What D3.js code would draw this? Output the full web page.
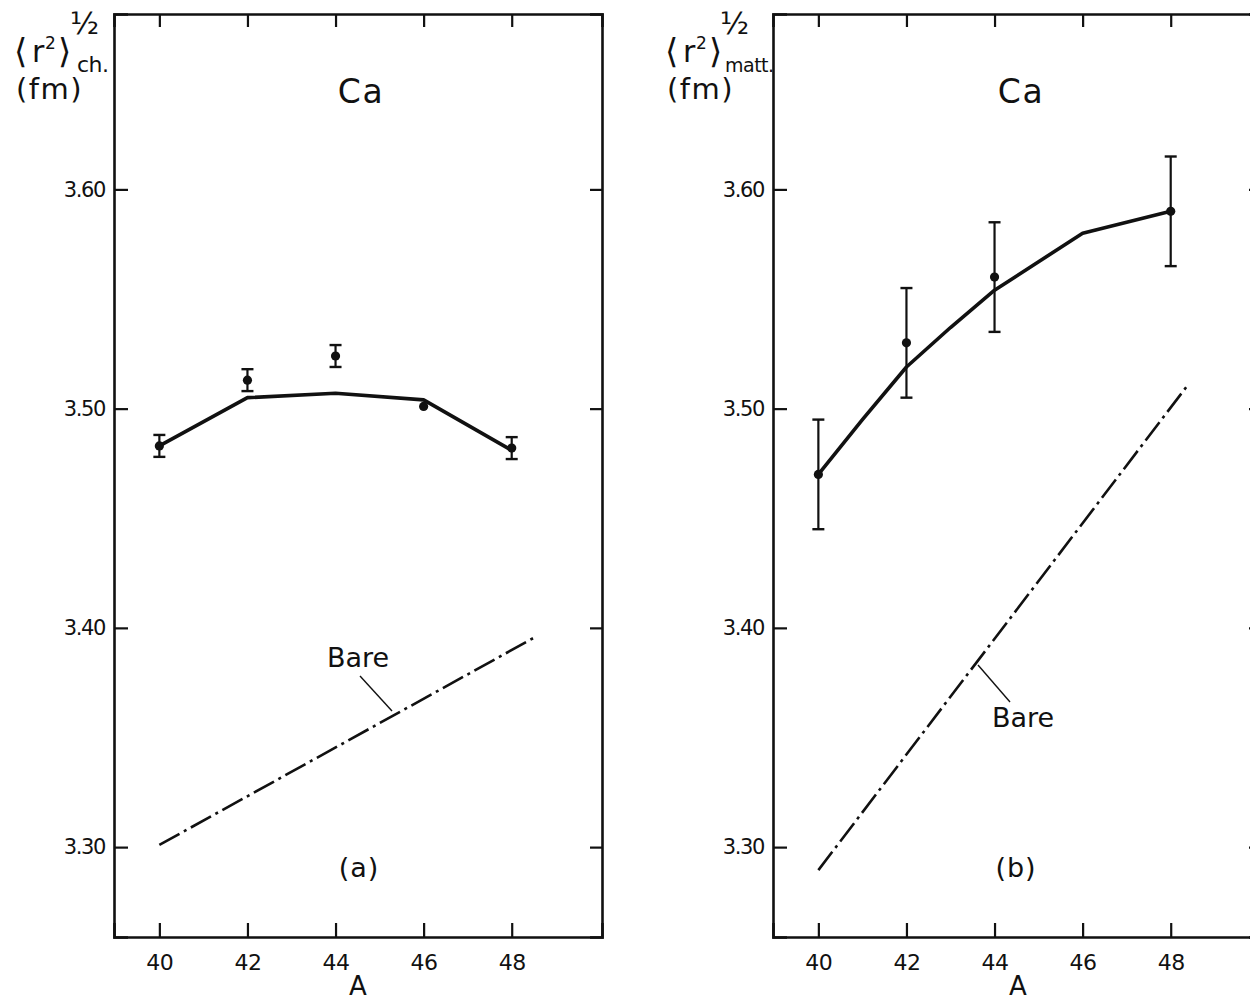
<!DOCTYPE html>
<html>
<head>
<meta charset="utf-8">
<script src="https://cdn.jsdelivr.net/npm/d3@7"></script>
<style>
  html, body { margin: 0; padding: 0; background: #fff; }
  svg text { font-family: "DejaVu Sans", sans-serif; fill: #111; }
</style>
</head>
<body>
<svg id="chart" width="1250" height="1003"></svg>
<script>
// Mass numbers of the calcium isotopes
const massNumbers = [40, 42, 44, 46, 48];
const yTicks = [3.30, 3.40, 3.50, 3.60];

// (a) charge radius: calculated curve, experiment with errors, bare result
const chCalcA = [40, 42, 44, 46, 48];
const chCalc = [3.483, 3.505, 3.507, 3.504, 3.481];
const chExpA = [40, 42, 44, 46, 48];
const chExp = [3.483, 3.513, 3.524, 3.501, 3.482];
const chErr = [0.005, 0.005, 0.005, 0.0, 0.005];
const chBareA = [40, 48.55];
const chBare = [3.301, 3.396];

// (b) matter radius
const mattCalcA = [40, 41, 42, 43, 44, 45, 46, 47, 48];
const mattCalc = [3.470, 3.495, 3.519, 3.537, 3.554, 3.567, 3.580, 3.585, 3.590];
const mattExpA = [40, 42, 44, 48];
const mattExp = [3.470, 3.530, 3.560, 3.590];
const mattErr = [0.025, 0.025, 0.025, 0.025];
const mattBareA = [40, 48.36];
const mattBare = [3.2895, 3.510];

const svg = d3.select("#chart");
const frameTop = 14, frameBottom = 937, panelW = 488;

const y = d3.scaleLinear().domain([3.259, 3.680]).range([frameBottom, frameTop]);

function panel(opts) {
  const x = d3.scaleLinear().domain([38.97, 50.05]).range([opts.left, opts.left + panelW]);
  const g = svg.append("g");
  const right = opts.left + panelW;

  // frame with inward ticks
  const axB = g.append("g").attr("transform", `translate(0,${frameBottom})`)
    .call(d3.axisBottom(x).tickValues(massNumbers).tickSize(-14).tickPadding(17).tickFormat(d3.format("d")));
  const axT = g.append("g").attr("transform", `translate(0,${frameTop})`)
    .call(d3.axisTop(x).tickValues(massNumbers).tickSize(-13).tickFormat(""));
  const axL = g.append("g").attr("transform", `translate(${opts.left},0)`)
    .call(d3.axisLeft(y).tickValues(yTicks).tickSize(-14).tickPadding(9).tickFormat(d3.format(".2f")));
  const axR = g.append("g").attr("transform", `translate(${right},0)`)
    .call(d3.axisRight(y).tickValues(yTicks).tickSize(-12).tickFormat(""));
  [axB, axT, axL, axR].forEach(a => {
    a.select(".domain").attr("stroke", "#111").attr("stroke-width", 2.6);
    a.selectAll(".tick line").attr("stroke", "#111").attr("stroke-width", 2.2);
    a.selectAll("text").attr("fill", "#111").style("font-family", '"DejaVu Sans", sans-serif');
  });
  axB.selectAll("text").attr("font-size", 22).attr("letter-spacing", -0.5);
  axL.selectAll("text").attr("font-size", 21).attr("letter-spacing", -1.4);

  // calculated curve
  g.append("path")
    .datum(opts.calcA.map((a, i) => [a, opts.calc[i]]))
    .attr("fill", "none").attr("stroke", "#111").attr("stroke-width", 3.6)
    .attr("stroke-linejoin", "round")
    .attr("d", d3.line().x(d => x(d[0])).y(d => y(d[1])));

  // bare (dash-dot) line
  g.append("path")
    .datum(opts.bareA.map((a, i) => [a, opts.bare[i]]))
    .attr("fill", "none").attr("stroke", "#111").attr("stroke-width", 2.6)
    .attr("stroke-dasharray", "23,5,3,5")
    .attr("d", d3.line().x(d => x(d[0])).y(d => y(d[1])));

  // experimental points with error bars
  const pts = opts.expA.map((a, i) => ({ a, v: opts.exp[i], e: opts.err[i] }));
  const eg = g.append("g").selectAll("g").data(pts).join("g");
  eg.filter(d => d.e > 0).append("line")
    .attr("x1", d => x(d.a)).attr("x2", d => x(d.a))
    .attr("y1", d => y(d.v - d.e)).attr("y2", d => y(d.v + d.e))
    .attr("stroke", "#111").attr("stroke-width", 2.2);
  ["-", "+"].forEach(s => {
    eg.filter(d => d.e > 0).append("line")
      .attr("x1", d => x(d.a) - 6).attr("x2", d => x(d.a) + 6)
      .attr("y1", d => y(s === "-" ? d.v - d.e : d.v + d.e))
      .attr("y2", d => y(s === "-" ? d.v - d.e : d.v + d.e))
      .attr("stroke", "#111").attr("stroke-width", 2.4);
  });
  eg.append("circle").attr("cx", d => x(d.a)).attr("cy", d => y(d.v)).attr("r", 4.6).attr("fill", "#111");

  // annotations
  g.append("text").attr("x", opts.caX).attr("y", 103).attr("text-anchor", "middle")
    .attr("font-size", 33).attr("letter-spacing", 1.5).text("Ca");
  g.append("text").attr("x", opts.tagX).attr("y", 877).attr("text-anchor", "middle")
    .attr("font-size", 27).attr("letter-spacing", 1).text(opts.tag);
  g.append("text").attr("x", opts.axisLabelX).attr("y", 995).attr("text-anchor", "middle")
    .attr("font-size", 26).text("A");

  // "Bare" label with leader line
  g.append("text").attr("x", opts.bareLabel[0]).attr("y", opts.bareLabel[1]).attr("text-anchor", "middle")
    .attr("font-size", 27).text("Bare");
  g.append("line")
    .attr("x1", opts.leader[0]).attr("y1", opts.leader[1])
    .attr("x2", opts.leader[2]).attr("y2", opts.leader[3])
    .attr("stroke", "#111").attr("stroke-width", 1.4);

  // y-axis title  <r^2>^{1/2}_{sub} (fm)
  const t = g.append("g").attr("transform", `translate(${opts.titleX},0)`);
  t.append("text").attr("x", 0).attr("y", 63).attr("font-size", 34).text("\u27E8");
  t.append("text").attr("x", 18).attr("y", 62).attr("font-size", 30).text("r");
  t.append("text").attr("x", 31).attr("y", 49).attr("font-size", 17).text("2");
  t.append("text").attr("x", 44).attr("y", 63).attr("font-size", 34).text("\u27E9");
  t.append("text").attr("x", opts.halfX).attr("y", 34).attr("font-size", 30).text("\u00BD");
  t.append("text").attr("x", opts.subX).attr("y", 72).attr("font-size", opts.subSize).attr("letter-spacing", -0.5).text(opts.sub);
  t.append("text").attr("x", 2).attr("y", 99).attr("font-size", 29).attr("letter-spacing", 1.5).text("(fm)");
}

panel({
  left: 114, calcA: chCalcA, calc: chCalc, expA: chExpA, exp: chExp, err: chErr,
  bareA: chBareA, bare: chBare, caX: 361, tagX: 359, axisLabelX: 358, tag: "(a)",
  bareLabel: [358, 667], leader: [360, 676, 392, 711], titleX: 14, sub: "ch.",
  halfX: 56, subX: 63, subSize: 22
});
panel({
  left: 773, calcA: mattCalcA, calc: mattCalc, expA: mattExpA, exp: mattExp, err: mattErr,
  bareA: mattBareA, bare: mattBare, caX: 1021, tagX: 1016, axisLabelX: 1018, tag: "(b)",
  bareLabel: [1023, 727], leader: [978, 665, 1010, 702], titleX: 665, sub: "matt.",
  halfX: 55, subX: 60, subSize: 19
});
</script>
</body>
</html>
